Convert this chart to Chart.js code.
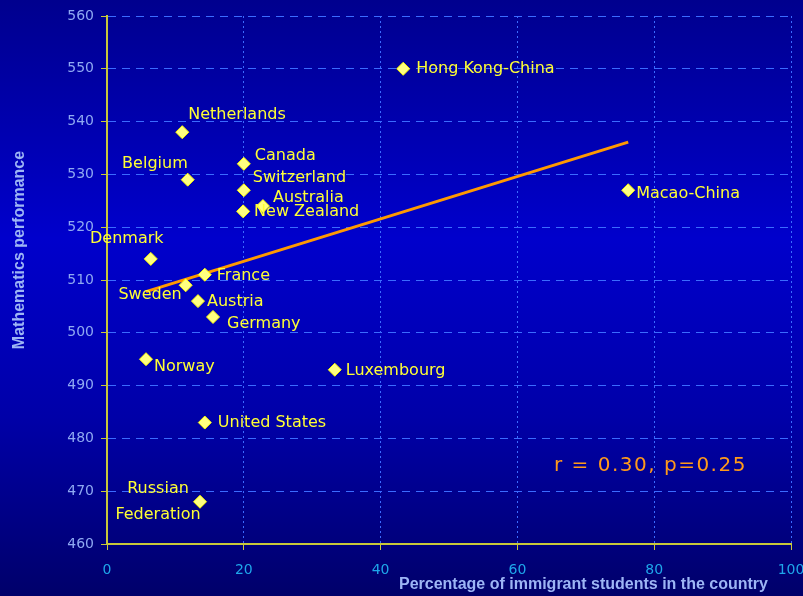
<!DOCTYPE html>
<html>
<head>
<meta charset="utf-8">
<script src="https://cdn.jsdelivr.net/npm/chart.js@4.4.1/dist/chart.umd.min.js"></script>
<style>
  html, body { margin: 0; padding: 0; background: #000080; }
  #wrap { width: 803px; height: 596px; position: relative; }
</style>
</head>
<body>
<div id="wrap"><canvas id="chart"></canvas></div>
<script>
  // ── Data ────────────────────────────────────────────────────────────────
  const countries = [
    'Hong Kong-China', 'Netherlands', 'Belgium', 'Canada', 'Switzerland',
    'Australia', 'New Zealand', 'Macao-China', 'Denmark', 'France',
    'Sweden', 'Austria', 'Germany', 'Norway', 'Luxembourg',
    'United States', 'Russian Federation'
  ];
  const immigrantPct = [43.3, 11.0, 11.8, 20.0, 20.0, 22.8, 19.9, 76.2, 6.4, 14.3, 11.5, 13.3, 15.5, 5.7, 33.3, 14.3, 13.6];
  const mathScore    = [550,  538,  529,  532,  527,  524,  523,  527,  514, 511,  509,  506,  503,  495, 493,  483,  468];

  const trendX = [5.7, 76.2];
  const trendY = [507.8, 536.1];

  const xTicks = [0, 20, 40, 60, 80, 100];
  const yTicks = [460, 470, 480, 490, 500, 510, 520, 530, 540, 550, 560];

  const statsText = 'r = 0.30, p=0.25';

  // label placement relative to each point: [dx, dy, align]
  const labelPlace = [
    [13, 0, 'left'], [6, -17, 'left'], [0, -16, 'right'], [11, -8, 'left'], [9, -12, 'left'],
    [10, -8, 'left'], [11, 0, 'left'], [8, 4, 'left'], [-24, -20, 'center'], [12, 1, 'left'],
    [-4, 10, 'right'], [9, 1, 'left'], [14, 7, 'left'], [8, 8, 'left'], [11, 1, 'left'],
    [13, 0, 'left'], [-42, 0, 'center']
  ];

  // ── Plugins ─────────────────────────────────────────────────────────────
  const backdrop = {
    id: 'backdrop',
    beforeDraw(chart) {
      const { ctx, width, height } = chart;
      const g = ctx.createLinearGradient(0, 0, 0, height);
      g.addColorStop(0, '#00008e');
      g.addColorStop(0.4, '#0000cc');
      g.addColorStop(0.7, '#0000a8');
      g.addColorStop(1, '#00006a');
      ctx.save();
      ctx.fillStyle = g;
      ctx.fillRect(0, 0, width, height);
      ctx.restore();
    }
  };

  const pointLabels = {
    id: 'pointLabels',
    afterDatasetsDraw(chart) {
      const { ctx, chartArea } = chart;
      const meta = chart.getDatasetMeta(1);
      ctx.save();
      ctx.font = '16px "DejaVu Sans", sans-serif';
      ctx.fillStyle = '#ffff33';
      ctx.textBaseline = 'middle';
      meta.data.forEach((pt, i) => {
        const [dx, dy, align] = labelPlace[i];
        ctx.textAlign = align;
        const name = countries[i];
        if (name === 'Russian Federation') {
          ctx.fillText('Russian', pt.x + dx, pt.y - 13);
          ctx.fillText('Federation', pt.x + dx, pt.y + 13);
        } else {
          ctx.fillText(name, pt.x + dx, pt.y + dy);
        }
      });

      // correlation note
      ctx.font = '20px "DejaVu Sans", sans-serif';
      ctx.letterSpacing = '1.5px';
      ctx.fillStyle = '#ff9a1a';
      ctx.textAlign = 'left';
      ctx.fillText(statsText, 554, 466);
      ctx.letterSpacing = '0px';

      // axis titles
      ctx.font = 'bold 16px "Liberation Sans", Arial, sans-serif';
      ctx.fillStyle = '#9db5f5';
      ctx.textAlign = 'left';
      ctx.fillText('Percentage of immigrant students in the country', 399, 585);
      ctx.translate(20, 250);
      ctx.rotate(-Math.PI / 2);
      ctx.textAlign = 'center';
      ctx.fillText('Mathematics performance', 0, 0);
      ctx.restore();
    }
  };

  // ── Chart ───────────────────────────────────────────────────────────────
  new Chart(document.getElementById('chart'), {
    type: 'scatter',
    data: {
      datasets: [
        {
          type: 'line',
          data: trendX.map((x, i) => ({ x, y: trendY[i] })),
          borderColor: '#ff9900',
          borderWidth: 3,
          pointRadius: 0,
          fill: false,
          order: 2,
        },
        {
          data: immigrantPct.map((x, i) => ({ x, y: mathScore[i] })),
          pointStyle: 'rectRot',
          pointRadius: 6.5,
          backgroundColor: '#ffff80',
          borderColor: '#ffff00',
          borderWidth: 1,
          order: 1,
        },
      ],
    },
    options: {
      responsive: true,
      maintainAspectRatio: false,
      animation: false,
      layout: { padding: { top: 16, right: 12, left: 0, bottom: 0 } },
      plugins: {
        legend: { display: false },
        tooltip: { enabled: false },
      },
      scales: {
        x: {
          type: 'linear',
          min: 0, max: 100,
          afterBuildTicks: s => { s.ticks = xTicks.map(v => ({ value: v })); },
          afterFit: s => { s.height = 52; s.paddingRight = 0; s.paddingLeft = 0; },
          grid: {
            color: '#3b6cff',
            lineWidth: 1,
            tickColor: '#c8c83a',
            tickLength: 6,
            drawOnChartArea: true,
          },
          border: { color: '#c8c83a', width: 2, dash: [2, 3] },
          ticks: {
            color: '#1ea6ea',
            font: { family: '"DejaVu Sans", sans-serif', size: 14 },
            padding: 12,
            maxRotation: 0,
          },
        },
        y: {
          type: 'linear',
          min: 460, max: 560,
          afterBuildTicks: s => { s.ticks = yTicks.map(v => ({ value: v })); },
          afterFit: s => { s.width = 107; s.paddingTop = 0; s.paddingBottom = 0; },
          grid: {
            color: '#3b6cff',
            lineWidth: 1,
            tickColor: '#c8c83a',
            tickLength: 6,
          },
          border: { color: '#c8c83a', width: 2, dash: [8, 6] },
          ticks: {
            color: '#8fa9f2',
            font: { family: '"DejaVu Sans", sans-serif', size: 14 },
            padding: 7,
          },
        },
      },
    },
    plugins: [backdrop, pointLabels],
  });
</script>
</body>
</html>
